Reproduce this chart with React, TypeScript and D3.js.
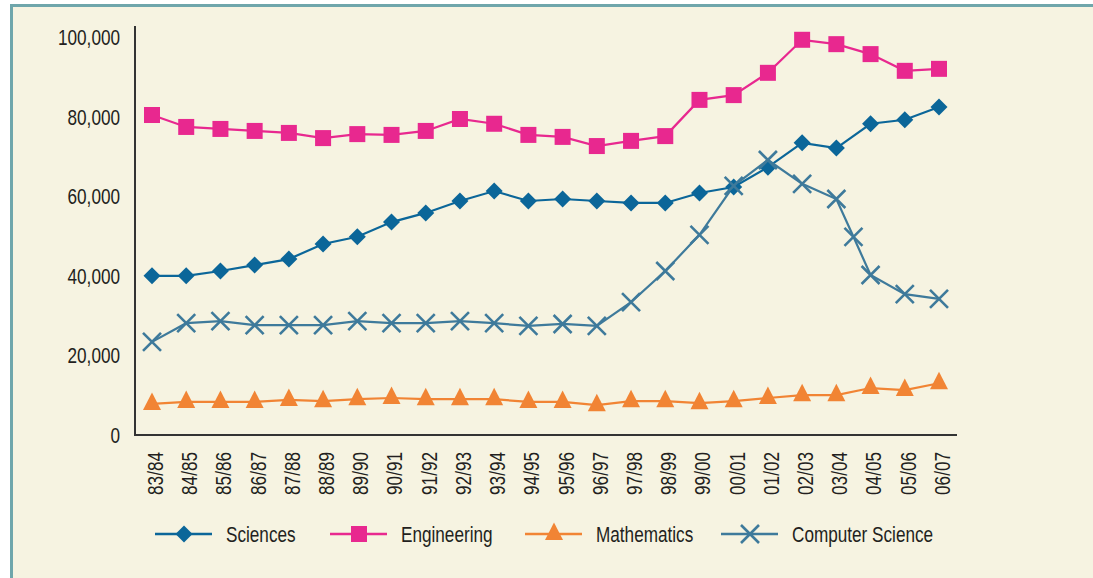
import * as d3 from "d3"

const years = [
  "83/84", "84/85", "85/86", "86/87", "87/88", "88/89", "89/90", "90/91",
  "91/92", "92/93", "93/94", "94/95", "95/96", "96/97", "97/98", "98/99",
  "99/00", "00/01", "01/02", "02/03", "03/04", "04/05", "05/06", "06/07",
]

const sciences = [
  40000, 40000, 41200, 42700, 44200, 48000, 49800, 53500, 55800, 58800, 61300, 58800,
  59300, 58800, 58300, 58300, 60800, 62300, 67300, 73400, 72100, 78200, 79200, 82400,
]

const engineering = [
  80400, 77400, 76900, 76400, 75900, 74600, 75600, 75400, 76400, 79400, 78200, 75400,
  74900, 72600, 73900, 75100, 84200, 85400, 91000, 99300, 98200, 95700, 91500, 92000,
]

const mathematics = [
  7800, 8300, 8300, 8300, 8800, 8500, 9000, 9300, 9000, 9000, 9000, 8300,
  8300, 7500, 8500, 8500, 8000, 8500, 9300, 10000, 10000, 11800, 11300, 13000,
]

// computer science has one extra reading between 03/04 and 04/05
const computerScience: [number, number][] = [
  [0, 23400], [1, 28100], [2, 28600], [3, 27600], [4, 27600], [5, 27600],
  [6, 28600], [7, 28100], [8, 28100], [9, 28600], [10, 28100], [11, 27400],
  [12, 27900], [13, 27400], [14, 33400], [15, 41200], [16, 50300], [17, 62600],
  [18, 69100], [19, 63100], [20, 59300], [20.5, 49800], [21, 40200], [22, 35400],
  [23, 34200],
]

const yTicks = [0, 20000, 40000, 60000, 80000, 100000]
const legendNames = ["Sciences", "Engineering", "Mathematics", "Computer Science"]

const W = 1093
const H = 578
const FONT = "'Liberation Sans', Arial, sans-serif"
const TEXT = "#231f20"
const NARROW = 0.78 // squeeze to mimic a condensed face

const colors = {
  sciences: "#0b6699",
  engineering: "#e8288f",
  mathematics: "#f18434",
  cs: "#3e7a9b",
}

function Marker({ kind, x, y, color }: { kind: string; x: number; y: number; color: string }) {
  if (kind === "diamond") {
    const s = 8.5
    return <path d={`M${x},${y - s}L${x + s},${y}L${x},${y + s}L${x - s},${y}Z`} fill={color} />
  }
  if (kind === "square") {
    const s = 8
    return <rect x={x - s} y={y - s} width={s * 2} height={s * 2} fill={color} />
  }
  if (kind === "triangle") {
    return <path d={`M${x},${y - 11.5}L${x + 9},${y + 6}L${x - 9},${y + 6}Z`} fill={color} />
  }
  const s = 9
  return (
    <path
      d={`M${x - s},${y - s}L${x + s},${y + s}M${x - s},${y + s}L${x + s},${y - s}`}
      stroke={color}
      strokeWidth={2.6}
      fill="none"
    />
  )
}

function NText({
  x,
  y,
  rotate = 0,
  anchor = "start",
  children,
}: {
  x: number
  y: number
  rotate?: number
  anchor?: string
  children: string
}) {
  return (
    <text
      transform={`translate(${x},${y}) rotate(${rotate}) scale(${NARROW},1)`}
      dy="0.36em"
      textAnchor={anchor}
      fontSize={22}
      fill={TEXT}
    >
      {children}
    </text>
  )
}

export default function App() {
  const x = d3.scaleLinear().domain([0, years.length - 1]).range([152, 939])
  const y = d3.scaleLinear().domain([0, 100000]).range([435, 37])
  const fmt = d3.format(",")

  const line = d3
    .line<[number, number]>()
    .x((d) => x(d[0]))
    .y((d) => y(d[1]))

  const series = [
    { name: "Sciences", kind: "diamond", color: colors.sciences, pts: sciences.map((v, i) => [i, v] as [number, number]) },
    { name: "Engineering", kind: "square", color: colors.engineering, pts: engineering.map((v, i) => [i, v] as [number, number]) },
    { name: "Mathematics", kind: "triangle", color: colors.mathematics, pts: mathematics.map((v, i) => [i, v] as [number, number]) },
    { name: "Computer Science", kind: "x", color: colors.cs, pts: computerScience },
  ]

  // legend layout
  const legendX = [155, 330, 525, 721]
  const legendY = 534

  return (
    <svg
      width={W}
      height={H}
      style={{ position: "absolute", left: 0, top: 0, display: "block" }}
      fontFamily={FONT}
    >
      <rect x={0} y={0} width={W} height={H} fill="#ffffff" />
      <rect x={10} y={4} width={W} height={H} fill="#f6f3e1" />
      <rect x={10} y={4} width={W} height={3} fill="#6fa6ab" />
      <rect x={10} y={4} width={3} height={H} fill="#6fa6ab" />

      {/* y axis labels */}
      {yTicks.map((t) => (
        <NText key={t} x={120} y={y(t)} anchor="end">
          {fmt(t)}
        </NText>
      ))}

      {/* axes */}
      <line x1={135} x2={135} y1={26} y2={435} stroke="#333" strokeWidth={2} />
      <line x1={134} x2={957} y1={435} y2={435} stroke="#333" strokeWidth={2} />

      {/* x labels */}
      {years.map((lab, i) => (
        <NText key={lab} x={x(i) + 3} y={452} rotate={-90} anchor="end">
          {lab}
        </NText>
      ))}

      {/* lines */}
      {series.map((s) => (
        <path key={s.name} d={line(s.pts) || ""} fill="none" stroke={s.color} strokeWidth={2.2} />
      ))}
      {series.map((s) =>
        s.pts.map((p, i) => (
          <Marker key={s.name + i} kind={s.kind} x={x(p[0])} y={y(p[1])} color={s.color} />
        )),
      )}

      {/* legend */}
      {series.map((s, i) => (
        <g key={"lg" + s.name}>
          <line
            x1={legendX[i]}
            x2={legendX[i] + 57}
            y1={legendY}
            y2={legendY}
            stroke={s.color}
            strokeWidth={2.4}
          />
          <Marker kind={s.kind} x={legendX[i] + 29} y={legendY} color={s.color} />
          <NText x={legendX[i] + 71} y={legendY}>
            {legendNames[i]}
          </NText>
        </g>
      ))}
    </svg>
  )
}
